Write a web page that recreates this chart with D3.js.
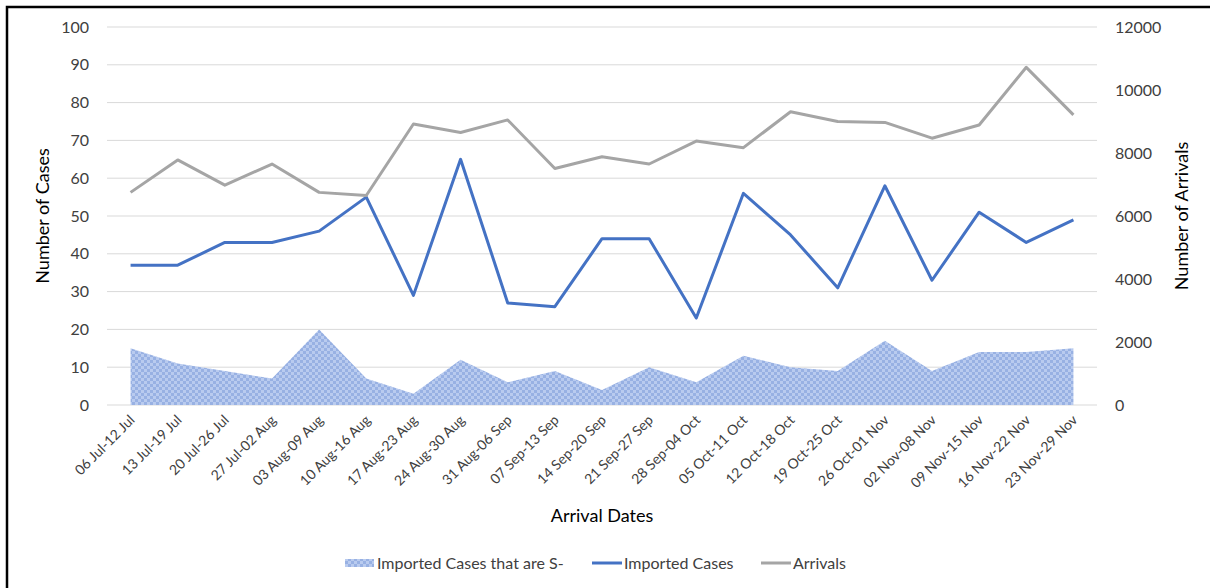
<!DOCTYPE html>
<html><head><meta charset="utf-8">
<script src="https://cdn.jsdelivr.net/npm/d3@7"></script>
<style>
html,body{margin:0;padding:0;background:#fff;}
svg{display:block;font-family:Lato,"Open Sans",sans-serif;}
</style></head>
<body>
<svg id="chart" width="1210" height="588"></svg>
<script>
const categories = ["06 Jul-12 Jul","13 Jul-19 Jul","20 Jul-26 Jul","27 Jul-02 Aug","03 Aug-09 Aug","10 Aug-16 Aug","17 Aug-23 Aug","24 Aug-30 Aug","31 Aug-06 Sep","07 Sep-13 Sep","14 Sep-20 Sep","21 Sep-27 Sep","28 Sep-04 Oct","05 Oct-11 Oct","12 Oct-18 Oct","19 Oct-25 Oct","26 Oct-01 Nov","02 Nov-08 Nov","09 Nov-15 Nov","16 Nov-22 Nov","23 Nov-29 Nov"];
const importedSNeg = [15,11,9,7,20,7,3,12,6,9,4,10,6,13,10,9,17,9,14,14,15];
const importedCases = [37,37,43,43,46,55,29,65,27,26,44,44,23,56,45,31,58,33,51,43,49];
const arrivals = [6750,7780,6980,7650,6750,6650,8920,8650,9050,7510,7880,7650,8380,8170,9310,9000,8970,8470,8890,10720,9210];
const leftTicks = [0,10,20,30,40,50,60,70,80,90,100];
const rightTicks = [0,2000,4000,6000,8000,10000,12000];
const seriesNames = ["Imported Cases that are S-","Imported Cases","Arrivals"];

const svg = d3.select("#chart");
const L = 107, R = 1097, T = 27, B = 405;

const x = d3.scaleBand().domain(categories).range([L, R]);
const cx = c => x(c) + x.bandwidth()/2;
const yL = d3.scaleLinear().domain([0,100]).range([B, T]);
const yR = d3.scaleLinear().domain([0,12000]).range([B, T]);

// pattern
const defs = svg.append("defs");
const pat = defs.append("pattern").attr("id","chk").attr("patternUnits","userSpaceOnUse")
  .attr("width",6).attr("height",6);
pat.append("rect").attr("width",6).attr("height",6).attr("fill","#b9cbef");
pat.append("rect").attr("width",3).attr("height",3).attr("fill","#98b1e3");
pat.append("rect").attr("x",3).attr("y",3).attr("width",3).attr("height",3).attr("fill","#98b1e3");

// border (top and left edges visible in the reference)
svg.append("path").attr("d","M7,588 V7 H1210").attr("fill","none").attr("stroke","#000").attr("stroke-width",2.5);

// gridlines
svg.append("g").selectAll("line").data(leftTicks).join("line")
  .attr("x1",L).attr("x2",R).attr("y1",d=>yL(d)).attr("y2",d=>yL(d))
  .attr("stroke","#d9d9d9").attr("stroke-width",1);

// left axis
const gL = svg.append("g").attr("transform",`translate(${L},0)`)
  .call(d3.axisLeft(yL).tickValues(leftTicks).tickSize(0).tickPadding(18));
gL.select(".domain").remove();
gL.selectAll("text").attr("font-size",16).attr("fill","#404040").attr("font-family","Lato");

const gR = svg.append("g").attr("transform",`translate(${R},0)`)
  .call(d3.axisRight(yR).tickValues(rightTicks).tickSize(0).tickPadding(18).tickFormat(d3.format("d")));
gR.select(".domain").remove();
gR.selectAll("text").attr("font-size",16).attr("fill","#404040").attr("font-family","Lato");

// area
const area = d3.area().x((d,i)=>cx(categories[i])).y0(yL(0)).y1(d=>yL(d));
svg.append("path").datum(importedSNeg).attr("d",area).attr("fill","url(#chk)");

// lines
const lineL = d3.line().x((d,i)=>cx(categories[i])).y(d=>yL(d));
const lineR = d3.line().x((d,i)=>cx(categories[i])).y(d=>yR(d));
svg.append("path").datum(importedCases).attr("d",lineL).attr("fill","none")
  .attr("stroke","#4472c4").attr("stroke-width",3).attr("stroke-linejoin","round");
svg.append("path").datum(arrivals).attr("d",lineR).attr("fill","none")
  .attr("stroke","#a5a5a5").attr("stroke-width",3).attr("stroke-linejoin","round");

// x labels
svg.append("g").selectAll("text").data(categories).join("text")
  .attr("transform",d=>`translate(${cx(d)+5},${B+16}) rotate(-45)`)
  .attr("text-anchor","end").attr("font-size",14).attr("fill","#404040").text(d=>d);

// axis titles
svg.append("text").attr("transform",`translate(49,${(T+B)/2}) rotate(-90)`)
  .attr("text-anchor","middle").attr("font-size",18).attr("fill","#000").text("Number of Cases");
svg.append("text").attr("transform",`translate(1188,${(T+B)/2}) rotate(-90)`)
  .attr("text-anchor","middle").attr("font-size",18).attr("fill","#000").text("Number of Arrivals");
svg.append("text").attr("x",(L+R)/2).attr("y",522).attr("text-anchor","middle")
  .attr("font-size",18).attr("fill","#000").text("Arrival Dates");

// legend
const leg = svg.append("g");
const legItems = [
  {name:seriesNames[0], x:345, type:"area"},
  {name:seriesNames[1], x:592, type:"line", color:"#4472c4"},
  {name:seriesNames[2], x:761, type:"line", color:"#a5a5a5"}
];
legItems.forEach(it=>{
  if(it.type==="area"){
    leg.append("rect").attr("x",it.x).attr("y",559).attr("width",29).attr("height",8).attr("fill","url(#chk)");
  } else {
    leg.append("line").attr("x1",it.x).attr("x2",it.x+30).attr("y1",563).attr("y2",563)
      .attr("stroke",it.color).attr("stroke-width",3);
  }
  leg.append("text").attr("x",it.x+32).attr("y",569).attr("font-size",16).attr("fill","#404040").text(it.name);
});
</script>
</body></html>
